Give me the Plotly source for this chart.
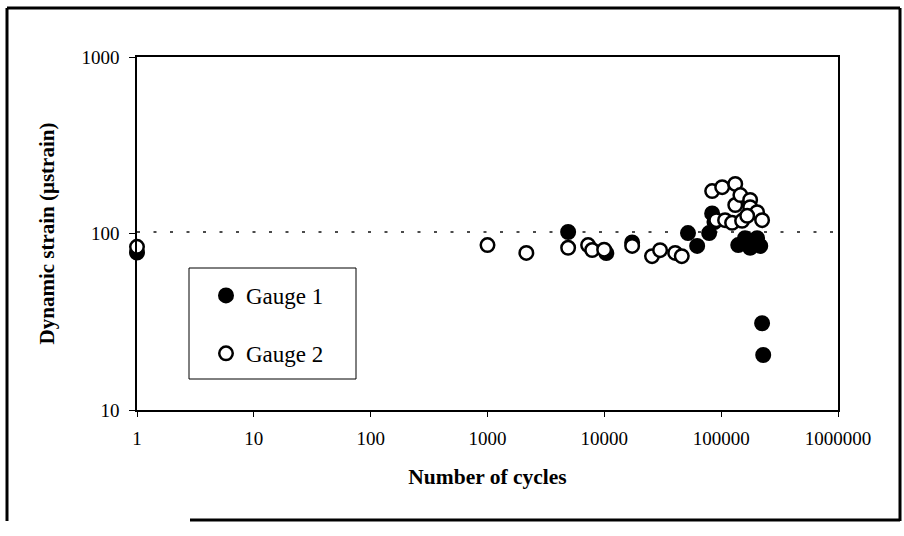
import plotly.graph_objects as go

# Gauge readings: number of load cycles vs dynamic strain (microstrain)
gauge1_cycles = [1, 4900, 10400, 17300, 52000, 62300, 78900, 83700, 87600,
                 140000, 160000, 177000, 203000, 216000, 224000, 229000]
gauge1_strain = [78, 102, 77.5, 89, 100.5, 85, 100.5, 130, 116,
                 86, 94, 83, 94, 85, 31, 20.5]

gauge2_cycles = [1, 1000, 2150, 4900, 7260, 7870, 9960, 17300, 25600, 30000,
                 40400, 46000, 83700, 102000, 132000, 132000, 146000, 177000,
                 177000, 203000, 90800, 108000, 124000, 151000, 167000, 224000]
gauge2_strain = [84, 86, 77.6, 83, 86, 80.6, 81, 85, 74.4, 80.5,
                 77.6, 74.4, 174, 183, 191, 145, 165, 155,
                 141, 132, 119, 119, 115, 118, 126, 119]

# Reference strain level shown as a dotted line
reference_strain = 102
reference_span = [1, 1000000]

x_tick_values = [1, 10, 100, 1000, 10000, 100000, 1000000]
x_tick_labels = ["1", "10", "100", "1000", "10000", "100000", "1000000"]
y_tick_values = [10, 100, 1000]
y_tick_labels = ["10", "100", "1000"]

FONT = "Liberation Serif"

fig = go.Figure()

fig.add_trace(go.Scatter(
    x=reference_span, y=[reference_strain, reference_strain],
    mode="lines", showlegend=False, hoverinfo="skip",
    line=dict(color="#111111", width=1.6, dash="3px,13.5px"),
))

fig.add_trace(go.Scatter(
    x=gauge1_cycles, y=gauge1_strain, mode="markers", name="Gauge 1",
    legendgroup="g1", cliponaxis=False,
    marker=dict(symbol="circle", size=13.5, color="black",
                line=dict(color="black", width=2.5)),
))

fig.add_trace(go.Scatter(
    x=gauge2_cycles, y=gauge2_strain, mode="markers", name="Gauge 2",
    legendgroup="g2", cliponaxis=False,
    marker=dict(symbol="circle", size=13.5, color="white",
                line=dict(color="black", width=2.5)),
))

# plot-area pixel geometry used to place frame elements in paper units
L, R, T, B = 137, 838, 57, 410
W, H = R - L, B - T


def px(x):
    return (x - L) / W


def py(y):
    return (B - y) / H


frame = dict(type="line", xref="paper", yref="paper",
             line=dict(color="black", width=3), layer="above")
shapes = [
    dict(frame, x0=px(7), x1=px(900), y0=py(8), y1=py(8)),
    dict(frame, x0=px(7), x1=px(7), y0=py(8), y1=py(521)),
    dict(frame, x0=px(900), x1=px(900), y0=py(8), y1=py(521)),
    dict(frame, x0=px(190), x1=px(900), y0=py(520), y1=py(520)),
    dict(type="rect", xref="paper", yref="paper",
         x0=px(189), x1=px(356), y0=py(379), y1=py(268),
         fillcolor="white", line=dict(color="black", width=1), layer="above"),
]

axis_common = dict(
    type="log", showgrid=False, zeroline=False,
    showline=True, linecolor="black", linewidth=1.5, mirror=True,
    ticks="outside", tickcolor="black", tickwidth=1.2,
    tickfont=dict(family=FONT, size=19, color="black"),
)

fig.update_layout(
    width=904, height=536,
    margin=dict(l=L, r=904 - R, t=T, b=536 - B),
    paper_bgcolor="white", plot_bgcolor="white",
    font=dict(family=FONT, size=19, color="black"),
    xaxis=dict(axis_common, range=[0, 6], tickvals=x_tick_values,
               ticktext=x_tick_labels, ticklen=5, ticklabelstandoff=5,
               title=dict(text="<b>Number of cycles</b>", standoff=21,
                          font=dict(family=FONT, size=21.5))),
    yaxis=dict(axis_common, range=[1, 3], tickvals=y_tick_values,
               ticktext=y_tick_labels, ticklen=6, ticklabelstandoff=6,
               title=dict(text="<b>Dynamic strain (μstrain)</b>", standoff=21,
                          font=dict(family=FONT, size=21))),
    shapes=shapes,
    showlegend=True,
    legend=dict(x=px(206), y=py(274), xanchor="left", yanchor="top",
                bgcolor="rgba(0,0,0,0)", borderwidth=0,
                traceorder="grouped", tracegroupgap=25,
                font=dict(family=FONT, size=23, color="black")),
)

fig.write_html("out.html")
